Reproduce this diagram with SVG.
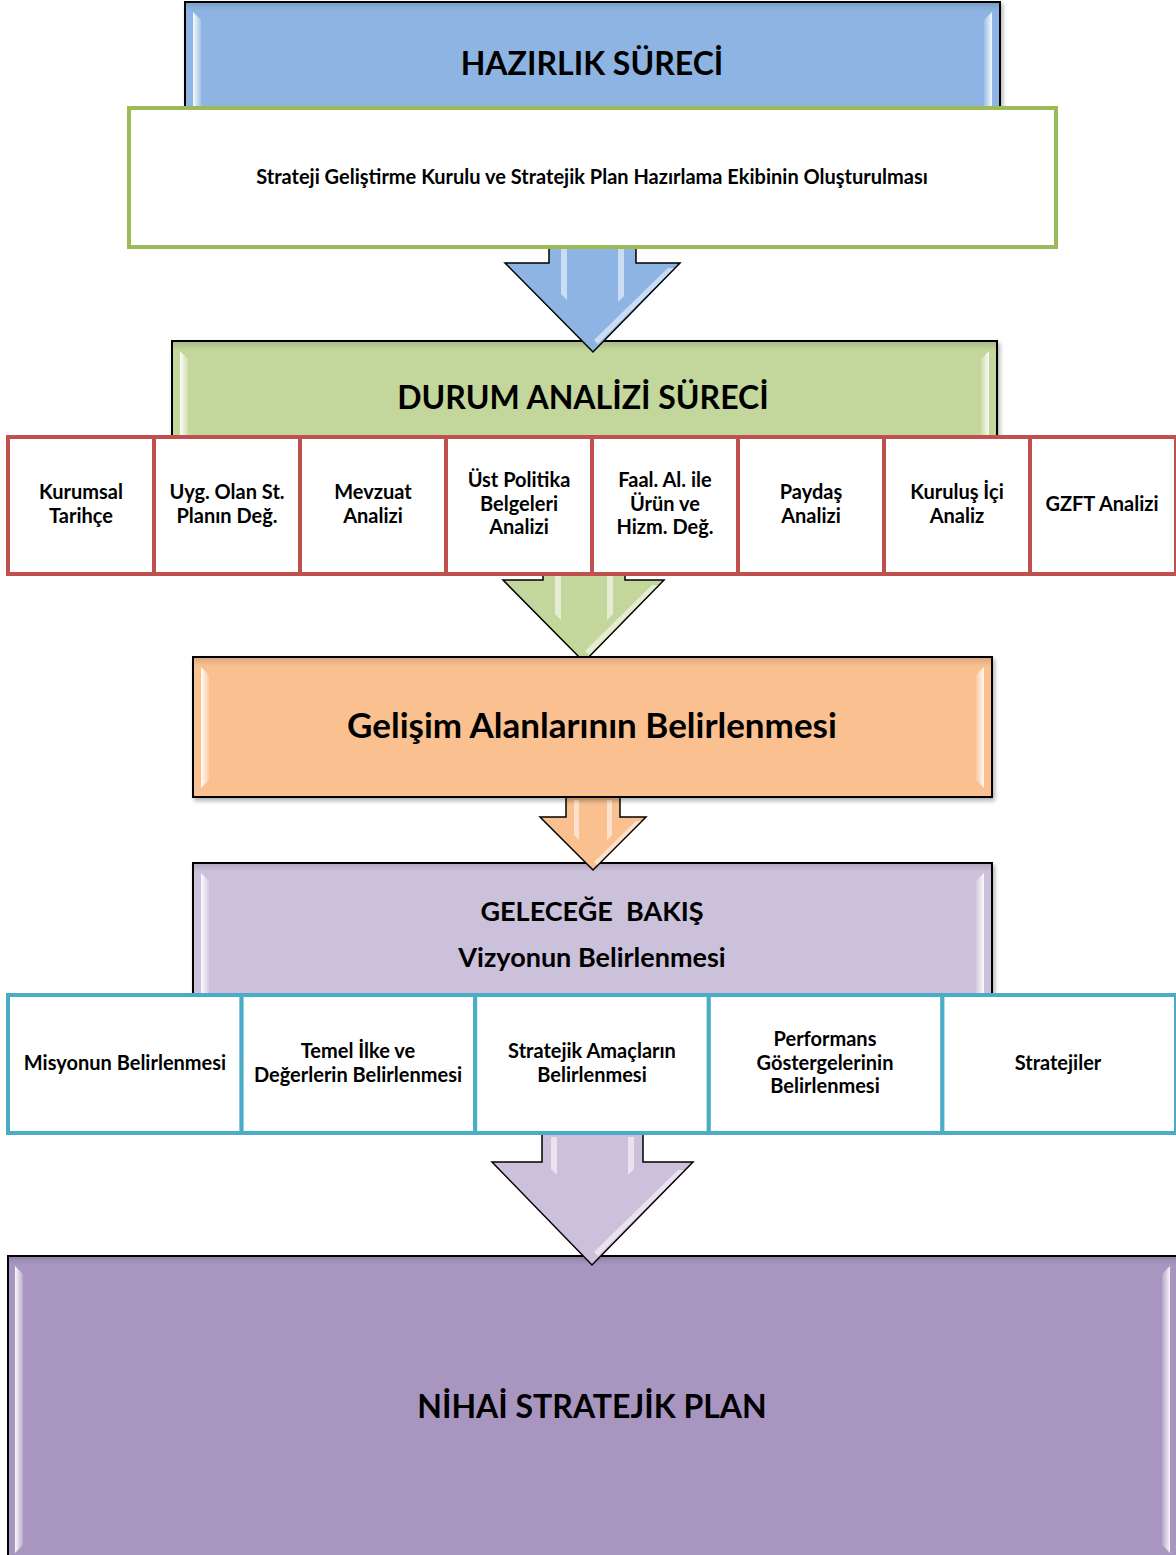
<svg xmlns="http://www.w3.org/2000/svg" width="1176" height="1555" viewBox="0 0 1176 1555">
<defs>
<style>
.t{font-family:Lato,"Open Sans","Liberation Sans",sans-serif;font-weight:bold;fill:#000;text-anchor:middle}
.box{stroke:#000;stroke-width:2}
.hl{fill:url(#hlg)}
.hlr{fill:url(#hlgr)}
.arr{stroke:#000;stroke-width:1.5;stroke-linejoin:miter}
.ahl{fill:#fff;opacity:0.55}
.red{fill:#fff;stroke:#C0504D;stroke-width:4}
.teal{fill:#fff;stroke:#4BACC6;stroke-width:4}
</style>
<linearGradient id="hlg" x1="0" y1="0" x2="1" y2="0">
<stop offset="0" stop-color="#fff" stop-opacity="0.95"/>
<stop offset="1" stop-color="#fff" stop-opacity="0.2"/>
</linearGradient>
<linearGradient id="hlgr" x1="1" y1="0" x2="0" y2="0">
<stop offset="0" stop-color="#fff" stop-opacity="0.9"/>
<stop offset="1" stop-color="#fff" stop-opacity="0.15"/>
</linearGradient>
<linearGradient id="topsh" x1="0" y1="0" x2="0" y2="1">
<stop offset="0" stop-color="#000" stop-opacity="0.12"/>
<stop offset="1" stop-color="#000" stop-opacity="0"/>
</linearGradient>
<filter id="sh" x="-5%" y="-5%" width="110%" height="115%">
<feDropShadow dx="2" dy="3" stdDeviation="2" flood-color="#000" flood-opacity="0.3"/>
</filter>
</defs>

<g id="hazirlik">
<rect class="box" x="185" y="2" width="815" height="115" fill="#8DB4E2" filter="url(#sh)"/>
<rect x="186" y="3" width="813" height="8" fill="url(#topsh)"/>
<polygon class="hl" points="193,12 201,20 201,120 193,120"/>
<polygon class="hlr" points="992,12 984,20 984,120 992,120"/>
<text class="t" x="592" y="75" font-size="32">HAZIRLIK SÜRECİ</text>
</g>

<g id="durum">
<rect class="box" x="172" y="341" width="825" height="100" fill="#C3D69B" filter="url(#sh)"/>
<rect x="173" y="342" width="823" height="8" fill="url(#topsh)"/>
<polygon class="hl" points="180,351 188,359 188,440 180,440"/>
<polygon class="hlr" points="989,351 981,359 981,440 989,440"/>
<text class="t" x="583" y="409" font-size="32">DURUM ANALİZİ SÜRECİ</text>
</g>

<g id="gelecege">
<rect class="box" x="193" y="863" width="799" height="135" fill="#CCC1DA" filter="url(#sh)"/>
<rect x="194" y="864" width="797" height="8" fill="url(#topsh)"/>
<polygon class="hl" points="201,873 209,881 209,997 201,997"/>
<polygon class="hlr" points="984,873 976,881 976,997 984,997"/>
<text class="t" x="592" y="921" font-size="27" xml:space="preserve">GELECEĞE  BAKIŞ</text>
<text class="t" x="592" y="967" font-size="27">Vizyonun Belirlenmesi</text>
</g>

<g id="nihai">
<rect class="box" x="8" y="1256" width="1180" height="310" fill="#A896C0"/>
<rect x="9" y="1257" width="1170" height="8" fill="url(#topsh)"/>
<polygon class="hl" points="15,1266 23,1274 23,1545 15,1553"/>
<polygon class="hlr" points="1170,1266 1162,1274 1162,1545 1170,1553"/>
<text class="t" x="592" y="1418" font-size="32">NİHAİ STRATEJİK PLAN</text>
</g>

<g id="connectors">
<g id="arrow1">
<polygon class="arr" fill="#8DB4E2" points="549,240 636,240 636,263 680,263 593,352 505,263 549,263"/>
<polygon class="ahl" points="561,248 567,248 567,300 561,294"/>
<polygon class="ahl" points="618,248 624,248 624,296 618,302"/>
<polygon class="ahl" points="668,268 674,268 598,344 594,340"/>
</g>
<g id="arrow2">
<polygon class="arr" fill="#C3D69B" points="543,570 625,570 625,580 664,580 584,662 503,580 543,580"/>
<polygon class="ahl" points="555,576 561,576 561,620 555,614"/>
<polygon class="ahl" points="607,576 613,576 613,614 607,620"/>
<polygon class="ahl" points="652,585 658,585 589,655 585,651"/>
</g>
<g id="arrow3">
<polygon class="arr" fill="#FAC090" points="566,797 620,797 620,817 646,817 593,870 540,817 566,817"/>
<polygon class="ahl" points="574,800 579,800 579,840 574,835"/>
<polygon class="ahl" points="607,800 612,800 612,835 607,840"/>
<polygon class="ahl" points="636,821 641,821 597,865 594,862"/>
</g>
<g id="arrow4">
<polygon class="arr" fill="#CCC1DA" points="542,1130 643,1130 643,1162 693,1162 592,1265 492,1162 542,1162"/>
<polygon class="ahl" points="551,1137 557,1137 557,1175 551,1169"/>
<polygon class="ahl" points="628,1137 634,1137 634,1169 628,1175"/>
<polygon class="ahl" points="678,1170 684,1170 598,1256 594,1252"/>
</g>
</g>

<g id="kurul">
<rect x="129" y="108" width="927" height="139" fill="#fff" stroke="#9BBB59" stroke-width="4"/>
<text class="t" x="592" y="184" font-size="20">Strateji Geliştirme Kurulu ve Stratejik Plan Hazırlama Ekibinin Oluşturulması</text>
</g>

<g id="durum-items" font-size="20">
<g id="kurumsal"><rect class="red" x="8" y="437" width="146" height="137"/>
<text class="t" x="81" y="499">Kurumsal</text><text class="t" x="81" y="523">Tarihçe</text></g>
<g id="uyg"><rect class="red" x="154" y="437" width="146" height="137"/>
<text class="t" x="227" y="499">Uyg. Olan St.</text><text class="t" x="227" y="523">Planın Değ.</text></g>
<g id="mevzuat"><rect class="red" x="300" y="437" width="146" height="137"/>
<text class="t" x="373" y="499">Mevzuat</text><text class="t" x="373" y="523">Analizi</text></g>
<g id="ustpolitika"><rect class="red" x="446" y="437" width="146" height="137"/>
<text class="t" x="519" y="487">Üst Politika</text><text class="t" x="519" y="511">Belgeleri</text><text class="t" x="519" y="534">Analizi</text></g>
<g id="faal"><rect class="red" x="592" y="437" width="146" height="137"/>
<text class="t" x="665" y="487">Faal. Al. ile</text><text class="t" x="665" y="511">Ürün ve</text><text class="t" x="665" y="534">Hizm. Değ.</text></g>
<g id="paydas"><rect class="red" x="738" y="437" width="146" height="137"/>
<text class="t" x="811" y="499">Paydaş</text><text class="t" x="811" y="523">Analizi</text></g>
<g id="kurulus"><rect class="red" x="884" y="437" width="146" height="137"/>
<text class="t" x="957" y="499">Kuruluş İçi</text><text class="t" x="957" y="523">Analiz</text></g>
<g id="gzft"><rect class="red" x="1030" y="437" width="146" height="137"/>
<text class="t" x="1102" y="511">GZFT Analizi</text></g>
</g>

<g id="gelisim">
<rect class="box" x="193" y="657" width="799" height="140" fill="#FAC090" filter="url(#sh)"/>
<rect x="194" y="658" width="797" height="8" fill="url(#topsh)"/>
<polygon class="hl" points="201,667 209,675 209,780 201,788"/>
<polygon class="hlr" points="984,667 976,675 976,780 984,788"/>
<text class="t" x="592" y="738" font-size="35">Gelişim Alanlarının Belirlenmesi</text>
</g>

<g id="gelecek-items" font-size="20">
<g id="misyon"><rect class="teal" x="8" y="995" width="233.6" height="138"/>
<text class="t" x="125" y="1070">Misyonun Belirlenmesi</text></g>
<g id="temel"><rect class="teal" x="241.6" y="995" width="233.6" height="138"/>
<text class="t" x="358" y="1058">Temel İlke ve</text><text class="t" x="358" y="1082">Değerlerin Belirlenmesi</text></g>
<g id="amaclar"><rect class="teal" x="475.2" y="995" width="233.6" height="138"/>
<text class="t" x="592" y="1058">Stratejik Amaçların</text><text class="t" x="592" y="1082">Belirlenmesi</text></g>
<g id="performans"><rect class="teal" x="708.8" y="995" width="233.6" height="138"/>
<text class="t" x="825" y="1046">Performans</text><text class="t" x="825" y="1070">Göstergelerinin</text><text class="t" x="825" y="1093">Belirlenmesi</text></g>
<g id="stratejiler"><rect class="teal" x="942.4" y="995" width="233.6" height="138"/>
<text class="t" x="1058" y="1070">Stratejiler</text></g>
</g>
</svg>
